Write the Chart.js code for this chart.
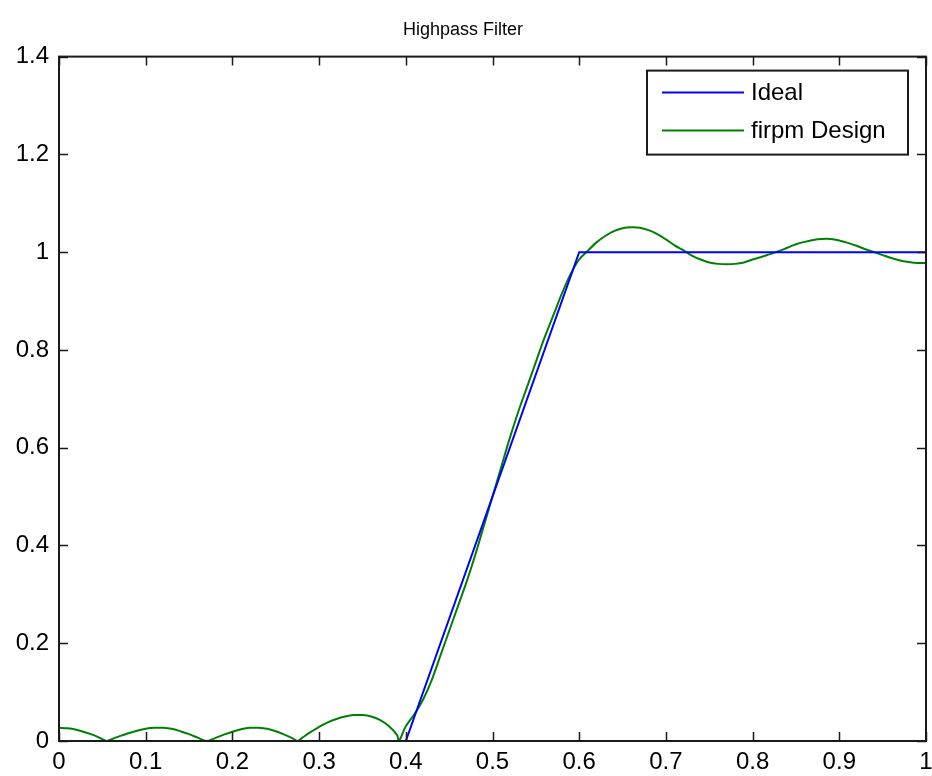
<!DOCTYPE html>
<html>
<head>
<meta charset="utf-8">
<title>Highpass Filter</title>
<script src="https://cdn.jsdelivr.net/npm/chart.js@4.4.0/dist/chart.umd.min.js"></script>
<style>
  html, body { margin: 0; padding: 0; background: #fff; }
  canvas { display: block; }
</style>
</head>
<body>
<canvas id="mycanvas1" width="932" height="776"></canvas>
<script>
// ideal highpass response (band edges and amplitudes)
var idealFreq = [0, 0.4, 0.6, 1];
var idealMag  = [0, 0, 1, 1];

// firpm design, magnitude response
var designFreq = [
  0, 0.01, 0.02, 0.03, 0.04, 0.05, 0.055, 0.06, 0.07, 0.08, 0.09,
  0.10, 0.11, 0.12, 0.13, 0.14, 0.15, 0.16, 0.17, 0.18, 0.19,
  0.20, 0.21, 0.22, 0.23, 0.24, 0.25, 0.26, 0.27, 0.275, 0.28, 0.29,
  0.30, 0.31, 0.32, 0.33, 0.34, 0.35, 0.36, 0.37, 0.38, 0.39, 0.392,
  0.40, 0.41, 0.42, 0.43, 0.44, 0.45, 0.46, 0.47, 0.48, 0.49,
  0.50, 0.51, 0.52, 0.53, 0.54, 0.55, 0.56, 0.57, 0.58, 0.59,
  0.60, 0.61, 0.62, 0.63, 0.64, 0.65, 0.66, 0.67, 0.68, 0.69,
  0.70, 0.71, 0.72, 0.73, 0.74, 0.75, 0.76, 0.77, 0.78, 0.79,
  0.80, 0.81, 0.82, 0.83, 0.84, 0.85, 0.86, 0.87, 0.88, 0.89,
  0.90, 0.91, 0.92, 0.93, 0.94, 0.95, 0.96, 0.97, 0.98, 0.99, 1.00
];
var designMag = [
  0.027, 0.026, 0.023, 0.018, 0.012, 0.004, 0.000, 0.003, 0.010, 0.016, 0.021,
  0.025, 0.027, 0.027, 0.025, 0.020, 0.014, 0.007, 0.000, 0.006, 0.013,
  0.019, 0.024, 0.027, 0.027, 0.025, 0.020, 0.013, 0.005, 0.000, 0.006, 0.018,
  0.029, 0.038, 0.045, 0.050, 0.053, 0.053, 0.050, 0.043, 0.031, 0.012, 0.000,
  0.030, 0.055, 0.085, 0.125, 0.175, 0.225, 0.275, 0.325, 0.380, 0.440,
  0.500, 0.560, 0.620, 0.675, 0.725, 0.775, 0.825, 0.870, 0.915, 0.955,
  0.985, 1.003, 1.020, 1.033, 1.043, 1.049, 1.051, 1.050, 1.045, 1.037,
  1.026, 1.014, 1.004, 0.993, 0.985, 0.979, 0.976, 0.975, 0.976, 0.979,
  0.985, 0.990, 0.996, 1.002, 1.009, 1.016, 1.021, 1.025, 1.027, 1.027,
  1.024, 1.019, 1.013, 1.006, 1.000, 0.994, 0.988, 0.983, 0.980, 0.978, 0.978
];

var xTicks = [0, 0.1, 0.2, 0.3, 0.4, 0.5, 0.6, 0.7, 0.8, 0.9, 1];
var yTicks = [0, 0.2, 0.4, 0.6, 0.8, 1, 1.2, 1.4];

function toPoints(xs, ys) {
  var pts = [];
  for (var i in xs) {
    pts.push({x: xs[i], y: ys[i]});
  }
  return pts;
}

function fmt(v) {
  return String(+Number(v).toFixed(1));
}

Chart.defaults.font.family = "'Liberation Sans', Arial, Helvetica, sans-serif";
Chart.defaults.color = '#000';

// axes box + inward tick marks, drawn over the lines like matlab does
var frameTicks = {
  id: 'frameTicks',
  afterDatasetsDraw: function(chart) {
    var ctx = chart.ctx;
    var a = chart.chartArea;
    var xs = chart.scales.x, ys = chart.scales.y;
    var len = 9;
    ctx.save();
    ctx.strokeStyle = '#1a1a1a';
    ctx.lineWidth = 2;
    ctx.strokeRect(a.left, a.top, a.right - a.left, a.bottom - a.top);
    ctx.lineWidth = 1.5;
    ctx.beginPath();
    xTicks.forEach(function(t) {
      var px = Math.round(xs.getPixelForValue(t)) + 0.5;
      ctx.moveTo(px, a.bottom); ctx.lineTo(px, a.bottom - len);
      ctx.moveTo(px, a.top); ctx.lineTo(px, a.top + len);
    });
    yTicks.forEach(function(t) {
      var py = Math.round(ys.getPixelForValue(t)) + 0.5;
      ctx.moveTo(a.left, py); ctx.lineTo(a.left + len, py);
      ctx.moveTo(a.right, py); ctx.lineTo(a.right - len, py);
    });
    ctx.stroke();
    ctx.restore();
  }
};

// legend box in the upper right corner of the plot
var boxLegend = {
  id: 'boxLegend',
  afterDraw: function(chart) {
    var ctx = chart.ctx;
    var a = chart.chartArea;
    var right = a.right - 18, top = a.top + 14;
    var w = 261, h = 84;
    var left = right - w;
    ctx.save();
    ctx.fillStyle = '#fff';
    ctx.fillRect(left, top, w, h);
    ctx.strokeStyle = '#1a1a1a';
    ctx.lineWidth = 2;
    ctx.strokeRect(left, top, w, h);
    ctx.font = "24px 'Liberation Sans', Arial, sans-serif";
    ctx.textBaseline = 'middle';
    ctx.textAlign = 'left';
    chart.data.datasets.forEach(function(ds, i) {
      var y = top + 22 + i * 38;
      ctx.strokeStyle = ds.borderColor;
      ctx.lineWidth = 2;
      ctx.beginPath();
      ctx.moveTo(left + 15, y);
      ctx.lineTo(left + 97, y);
      ctx.stroke();
      ctx.fillStyle = '#000';
      ctx.fillText(ds.label, left + 104, y + 1);
    });
    ctx.restore();
  }
};

var ctx = document.getElementById('mycanvas1');

var chart = new Chart(ctx, {
  type: 'scatter',
  data: {
    datasets: [
      {
        label: 'Ideal',
        data: toPoints(idealFreq, idealMag),
        showLine: true,
        borderColor: '#0000ff',
        borderWidth: 2,
        pointRadius: 0,
        tension: 0
      },
      {
        label: 'firpm Design',
        data: toPoints(designFreq, designMag),
        showLine: true,
        borderColor: '#008000',
        borderWidth: 2,
        pointRadius: 0,
        tension: 0.3
      }
    ]
  },
  options: {
    responsive: false,
    animation: false,
    layout: { padding: { left: 0, right: 6, top: 0, bottom: 0 } },
    plugins: {
      legend: { display: false },
      tooltip: { enabled: false },
      title: {
        display: true,
        text: 'Highpass Filter',
        color: '#000',
        font: { size: 18, weight: 'normal' },
        padding: { top: 19, bottom: 16 }
      }
    },
    scales: {
      x: {
        type: 'linear',
        min: 0,
        max: 1,
        afterBuildTicks: function(scale) {
          scale.ticks = xTicks.map(function(v) { return {value: v}; });
        },
        afterFit: function(scale) {
          scale.height = 35;
          scale.paddingLeft = 0;
          scale.paddingRight = 0;
        },
        grid: { display: false, drawTicks: false },
        border: { display: false },
        ticks: {
          autoSkip: false,
          maxRotation: 0,
          padding: 7,
          font: { size: 24 },
          callback: function(v) { return fmt(v); }
        }
      },
      y: {
        type: 'linear',
        min: 0,
        max: 1.4,
        afterBuildTicks: function(scale) {
          scale.ticks = yTicks.map(function(v) { return {value: v}; });
        },
        afterFit: function(scale) { scale.width = 59; },
        grid: { display: false, drawTicks: false },
        border: { display: false },
        ticks: {
          autoSkip: false,
          padding: 10,
          font: { size: 24 },
          callback: function(v) { return fmt(v); }
        }
      }
    }
  },
  plugins: [frameTicks, boxLegend]
});
</script>
</body>
</html>
